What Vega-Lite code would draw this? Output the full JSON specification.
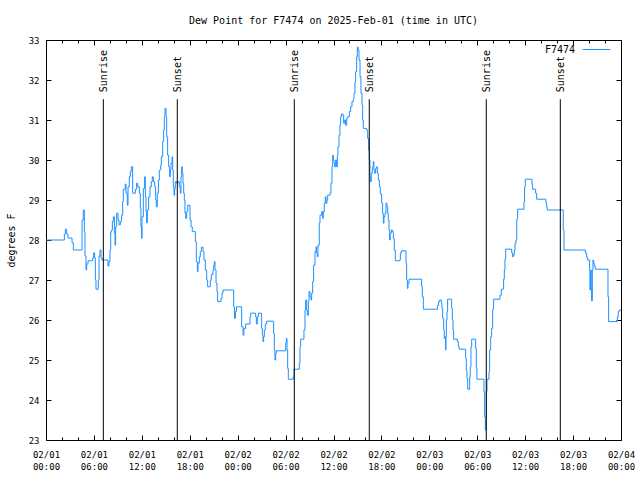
{
  "$schema": "https://vega.github.io/schema/vega-lite/v6.json",
  "width": 575,
  "height": 400,
  "autosize": {"type": "none"},
  "padding": {"left": 46, "top": 40, "right": 19, "bottom": 40},
  "background": "white",
  "title": {"text": "Dew Point for F7474 on 2025-Feb-01 (time in UTC)", "font": "DejaVu Sans Mono", "fontSize": 10, "fontWeight": "normal", "color": "black", "anchor": "middle", "offset": 9},
  "config": {"font": "DejaVu Sans Mono", "view": {"stroke": null}},
  "datasets": {
    "dew": [
      {"hours": 0, "dewpoint": 28.0}, {"hours": 2.30, "dewpoint": 28.15}, {"hours": 2.42, "dewpoint": 28.27}, {"hours": 2.59, "dewpoint": 28.15}, {"hours": 2.75, "dewpoint": 28.05}, {"hours": 3.26, "dewpoint": 27.93}, {"hours": 3.42, "dewpoint": 27.75},
      {"hours": 4.51, "dewpoint": 28.5}, {"hours": 4.67, "dewpoint": 28.75}, {"hours": 4.80, "dewpoint": 28.2}, {"hours": 4.88, "dewpoint": 27.6}, {"hours": 5.01, "dewpoint": 27.25}, {"hours": 5.09, "dewpoint": 27.4}, {"hours": 5.26, "dewpoint": 27.48},
      {"hours": 5.84, "dewpoint": 27.55}, {"hours": 5.97, "dewpoint": 27.68}, {"hours": 6.09, "dewpoint": 27.55}, {"hours": 6.18, "dewpoint": 27.0}, {"hours": 6.26, "dewpoint": 26.77}, {"hours": 6.55, "dewpoint": 27.0}, {"hours": 6.64, "dewpoint": 27.6},
      {"hours": 6.76, "dewpoint": 27.75}, {"hours": 6.89, "dewpoint": 27.55}, {"hours": 7.01, "dewpoint": 27.5}, {"hours": 7.76, "dewpoint": 27.35}, {"hours": 7.89, "dewpoint": 27.46}, {"hours": 8.01, "dewpoint": 27.75}, {"hours": 8.10, "dewpoint": 28.2},
      {"hours": 8.22, "dewpoint": 28.25}, {"hours": 8.31, "dewpoint": 28.46}, {"hours": 8.43, "dewpoint": 28.58}, {"hours": 8.56, "dewpoint": 28.17}, {"hours": 8.64, "dewpoint": 27.87}, {"hours": 8.72, "dewpoint": 28.33}, {"hours": 8.85, "dewpoint": 28.67},
      {"hours": 9.02, "dewpoint": 28.5}, {"hours": 9.14, "dewpoint": 28.38}, {"hours": 9.31, "dewpoint": 28.46}, {"hours": 9.47, "dewpoint": 28.62}, {"hours": 9.60, "dewpoint": 28.96}, {"hours": 9.68, "dewpoint": 29.27}, {"hours": 9.93, "dewpoint": 29.4},
      {"hours": 10.02, "dewpoint": 29.17}, {"hours": 10.18, "dewpoint": 28.87}, {"hours": 10.27, "dewpoint": 29.33}, {"hours": 10.43, "dewpoint": 29.58}, {"hours": 10.56, "dewpoint": 29.71}, {"hours": 10.68, "dewpoint": 29.83}, {"hours": 10.85, "dewpoint": 29.17},
      {"hours": 11.19, "dewpoint": 29.27}, {"hours": 11.35, "dewpoint": 29.42}, {"hours": 11.48, "dewpoint": 29.33}, {"hours": 11.69, "dewpoint": 29.17}, {"hours": 11.81, "dewpoint": 28.79}, {"hours": 11.89, "dewpoint": 28.33}, {"hours": 11.98, "dewpoint": 28.04},
      {"hours": 12.02, "dewpoint": 28.58}, {"hours": 12.19, "dewpoint": 29.29}, {"hours": 12.35, "dewpoint": 29.58}, {"hours": 12.44, "dewpoint": 29.08}, {"hours": 12.52, "dewpoint": 28.71}, {"hours": 12.60, "dewpoint": 28.43}, {"hours": 12.69, "dewpoint": 28.75},
      {"hours": 12.85, "dewpoint": 29.08}, {"hours": 13.02, "dewpoint": 29.33}, {"hours": 13.19, "dewpoint": 29.46}, {"hours": 13.31, "dewpoint": 29.58}, {"hours": 13.44, "dewpoint": 29.46}, {"hours": 13.61, "dewpoint": 29.33}, {"hours": 13.73, "dewpoint": 29.0},
      {"hours": 13.81, "dewpoint": 28.83}, {"hours": 13.94, "dewpoint": 29.17}, {"hours": 14.07, "dewpoint": 29.5}, {"hours": 14.19, "dewpoint": 29.75}, {"hours": 14.36, "dewpoint": 29.87}, {"hours": 14.44, "dewpoint": 30.08}, {"hours": 14.61, "dewpoint": 30.46},
      {"hours": 14.73, "dewpoint": 30.75}, {"hours": 14.82, "dewpoint": 31.08}, {"hours": 14.90, "dewpoint": 31.29}, {"hours": 15.03, "dewpoint": 31.08}, {"hours": 15.11, "dewpoint": 30.58}, {"hours": 15.23, "dewpoint": 30.12}, {"hours": 15.36, "dewpoint": 29.83},
      {"hours": 15.48, "dewpoint": 29.58}, {"hours": 15.57, "dewpoint": 29.75}, {"hours": 15.65, "dewpoint": 29.92}, {"hours": 15.78, "dewpoint": 30.08}, {"hours": 15.86, "dewpoint": 29.75}, {"hours": 15.94, "dewpoint": 29.33}, {"hours": 16.03, "dewpoint": 29.12},
      {"hours": 16.11, "dewpoint": 29.29}, {"hours": 16.19, "dewpoint": 29.46}, {"hours": 16.36, "dewpoint": 29.42}, {"hours": 16.53, "dewpoint": 29.46}, {"hours": 16.69, "dewpoint": 29.33}, {"hours": 16.82, "dewpoint": 29.17}, {"hours": 16.90, "dewpoint": 29.58},
      {"hours": 16.99, "dewpoint": 29.83}, {"hours": 17.07, "dewpoint": 29.67}, {"hours": 17.15, "dewpoint": 29.42}, {"hours": 17.24, "dewpoint": 29.17}, {"hours": 17.32, "dewpoint": 29.0}, {"hours": 17.40, "dewpoint": 28.67}, {"hours": 17.49, "dewpoint": 28.54},
      {"hours": 17.61, "dewpoint": 28.71}, {"hours": 17.74, "dewpoint": 28.87}, {"hours": 18.03, "dewpoint": 28.5}, {"hours": 18.16, "dewpoint": 28.33}, {"hours": 18.32, "dewpoint": 28.21}, {"hours": 18.70, "dewpoint": 27.96}, {"hours": 18.82, "dewpoint": 27.46},
      {"hours": 18.95, "dewpoint": 27.21}, {"hours": 19.03, "dewpoint": 27.42}, {"hours": 19.20, "dewpoint": 27.58}, {"hours": 19.32, "dewpoint": 27.71}, {"hours": 19.45, "dewpoint": 27.82}, {"hours": 19.66, "dewpoint": 27.71}, {"hours": 19.78, "dewpoint": 27.5},
      {"hours": 19.95, "dewpoint": 27.25}, {"hours": 20.12, "dewpoint": 27.0}, {"hours": 20.24, "dewpoint": 26.83}, {"hours": 20.58, "dewpoint": 27.0}, {"hours": 20.70, "dewpoint": 27.14}, {"hours": 20.91, "dewpoint": 27.25}, {"hours": 20.99, "dewpoint": 27.37},
      {"hours": 21.08, "dewpoint": 27.46}, {"hours": 21.16, "dewpoint": 27.25}, {"hours": 21.29, "dewpoint": 26.92}, {"hours": 21.41, "dewpoint": 26.71}, {"hours": 21.49, "dewpoint": 26.46}, {"hours": 21.91, "dewpoint": 26.54}, {"hours": 22.04, "dewpoint": 26.67},
      {"hours": 22.16, "dewpoint": 26.75}, {"hours": 23.50, "dewpoint": 26.33}, {"hours": 23.60, "dewpoint": 26.04}, {"hours": 23.72, "dewpoint": 26.21}, {"hours": 23.85, "dewpoint": 26.33}, {"hours": 24.50, "dewpoint": 25.83}, {"hours": 24.67, "dewpoint": 25.62},
      {"hours": 24.79, "dewpoint": 25.79}, {"hours": 25.0, "dewpoint": 25.9}, {"hours": 25.54, "dewpoint": 26.08}, {"hours": 25.63, "dewpoint": 26.17}, {"hours": 26.25, "dewpoint": 26.08}, {"hours": 26.34, "dewpoint": 25.9}, {"hours": 26.46, "dewpoint": 26.08},
      {"hours": 26.59, "dewpoint": 26.17}, {"hours": 27.0, "dewpoint": 25.79}, {"hours": 27.09, "dewpoint": 25.62}, {"hours": 27.17, "dewpoint": 25.46}, {"hours": 27.25, "dewpoint": 25.58}, {"hours": 27.34, "dewpoint": 25.75}, {"hours": 27.46, "dewpoint": 25.9},
      {"hours": 27.63, "dewpoint": 25.97}, {"hours": 28.50, "dewpoint": 25.67}, {"hours": 28.59, "dewpoint": 25.25}, {"hours": 28.67, "dewpoint": 25.0}, {"hours": 28.76, "dewpoint": 25.17}, {"hours": 28.84, "dewpoint": 25.23}, {"hours": 30.01, "dewpoint": 25.42},
      {"hours": 30.09, "dewpoint": 25.54}, {"hours": 30.18, "dewpoint": 25.25}, {"hours": 30.26, "dewpoint": 24.79}, {"hours": 30.34, "dewpoint": 24.52}, {"hours": 30.97, "dewpoint": 24.58}, {"hours": 31.05, "dewpoint": 24.77}, {"hours": 31.72, "dewpoint": 24.92},
      {"hours": 31.80, "dewpoint": 25.33}, {"hours": 31.89, "dewpoint": 25.52}, {"hours": 32.22, "dewpoint": 25.52}, {"hours": 32.30, "dewpoint": 25.75}, {"hours": 32.43, "dewpoint": 26.25}, {"hours": 32.51, "dewpoint": 26.5}, {"hours": 32.64, "dewpoint": 26.25},
      {"hours": 32.72, "dewpoint": 26.12}, {"hours": 32.85, "dewpoint": 26.46}, {"hours": 32.93, "dewpoint": 26.71}, {"hours": 33.06, "dewpoint": 26.58}, {"hours": 33.18, "dewpoint": 26.5}, {"hours": 33.26, "dewpoint": 26.67}, {"hours": 33.39, "dewpoint": 26.96},
      {"hours": 33.51, "dewpoint": 27.37}, {"hours": 33.68, "dewpoint": 27.71}, {"hours": 33.81, "dewpoint": 27.83}, {"hours": 33.89, "dewpoint": 27.67}, {"hours": 33.97, "dewpoint": 27.58}, {"hours": 34.06, "dewpoint": 27.87}, {"hours": 34.22, "dewpoint": 28.42},
      {"hours": 34.31, "dewpoint": 28.62}, {"hours": 34.52, "dewpoint": 28.71}, {"hours": 34.64, "dewpoint": 28.54}, {"hours": 34.72, "dewpoint": 28.71}, {"hours": 34.85, "dewpoint": 28.92}, {"hours": 34.97, "dewpoint": 29.08}, {"hours": 35.06, "dewpoint": 28.92},
      {"hours": 35.18, "dewpoint": 29.0}, {"hours": 35.27, "dewpoint": 29.12}, {"hours": 35.56, "dewpoint": 29.17}, {"hours": 35.68, "dewpoint": 29.42}, {"hours": 35.81, "dewpoint": 29.83}, {"hours": 35.89, "dewpoint": 30.12}, {"hours": 35.98, "dewpoint": 30.0},
      {"hours": 36.06, "dewpoint": 29.92}, {"hours": 36.14, "dewpoint": 29.83}, {"hours": 36.27, "dewpoint": 30.0}, {"hours": 36.39, "dewpoint": 29.83}, {"hours": 36.48, "dewpoint": 30.12}, {"hours": 36.56, "dewpoint": 30.33}, {"hours": 36.69, "dewpoint": 30.62},
      {"hours": 36.81, "dewpoint": 30.87}, {"hours": 36.89, "dewpoint": 31.08}, {"hours": 36.98, "dewpoint": 31.15}, {"hours": 37.15, "dewpoint": 31.12}, {"hours": 37.27, "dewpoint": 30.92}, {"hours": 37.40, "dewpoint": 31.0}, {"hours": 37.52, "dewpoint": 30.87},
      {"hours": 37.65, "dewpoint": 31.04}, {"hours": 37.77, "dewpoint": 31.08}, {"hours": 37.98, "dewpoint": 31.21}, {"hours": 38.15, "dewpoint": 31.33}, {"hours": 38.31, "dewpoint": 31.46}, {"hours": 38.48, "dewpoint": 31.52}, {"hours": 38.56, "dewpoint": 31.67},
      {"hours": 38.69, "dewpoint": 31.96}, {"hours": 38.77, "dewpoint": 32.21}, {"hours": 38.90, "dewpoint": 32.58}, {"hours": 38.98, "dewpoint": 32.82}, {"hours": 39.10, "dewpoint": 32.75}, {"hours": 39.19, "dewpoint": 32.5}, {"hours": 39.32, "dewpoint": 32.08},
      {"hours": 39.44, "dewpoint": 31.67}, {"hours": 39.57, "dewpoint": 31.37}, {"hours": 39.65, "dewpoint": 31.0}, {"hours": 39.73, "dewpoint": 30.79}, {"hours": 40.15, "dewpoint": 30.75}, {"hours": 40.28, "dewpoint": 30.54}, {"hours": 40.40, "dewpoint": 30.25},
      {"hours": 40.48, "dewpoint": 30.0}, {"hours": 40.57, "dewpoint": 29.58}, {"hours": 40.65, "dewpoint": 29.46}, {"hours": 40.73, "dewpoint": 29.67}, {"hours": 40.86, "dewpoint": 29.83}, {"hours": 40.98, "dewpoint": 29.96}, {"hours": 41.06, "dewpoint": 29.75},
      {"hours": 41.15, "dewpoint": 29.67}, {"hours": 41.28, "dewpoint": 29.79}, {"hours": 41.40, "dewpoint": 29.83}, {"hours": 41.49, "dewpoint": 29.67}, {"hours": 41.61, "dewpoint": 29.5}, {"hours": 41.74, "dewpoint": 29.33}, {"hours": 41.86, "dewpoint": 29.15},
      {"hours": 42.03, "dewpoint": 28.92}, {"hours": 42.15, "dewpoint": 28.67}, {"hours": 42.24, "dewpoint": 28.42}, {"hours": 42.32, "dewpoint": 28.58}, {"hours": 42.45, "dewpoint": 28.67}, {"hours": 42.57, "dewpoint": 28.92}, {"hours": 42.70, "dewpoint": 28.83},
      {"hours": 42.78, "dewpoint": 28.67}, {"hours": 42.86, "dewpoint": 28.5}, {"hours": 42.95, "dewpoint": 28.25}, {"hours": 43.03, "dewpoint": 28.0}, {"hours": 43.11, "dewpoint": 28.17}, {"hours": 43.24, "dewpoint": 28.25}, {"hours": 43.36, "dewpoint": 28.21},
      {"hours": 43.49, "dewpoint": 28.04}, {"hours": 43.61, "dewpoint": 27.75}, {"hours": 43.74, "dewpoint": 27.48}, {"hours": 44.24, "dewpoint": 27.5}, {"hours": 44.37, "dewpoint": 27.67}, {"hours": 44.49, "dewpoint": 27.73}, {"hours": 45.0, "dewpoint": 27.73},
      {"hours": 45.08, "dewpoint": 27.42}, {"hours": 45.16, "dewpoint": 27.0}, {"hours": 45.25, "dewpoint": 26.79}, {"hours": 45.33, "dewpoint": 26.92}, {"hours": 45.46, "dewpoint": 27.02}, {"hours": 47.04, "dewpoint": 26.83}, {"hours": 47.12, "dewpoint": 26.58},
      {"hours": 47.25, "dewpoint": 26.27}, {"hours": 49.04, "dewpoint": 26.37}, {"hours": 49.17, "dewpoint": 26.46}, {"hours": 49.29, "dewpoint": 26.5}, {"hours": 49.50, "dewpoint": 26.42}, {"hours": 49.58, "dewpoint": 26.29}, {"hours": 49.67, "dewpoint": 26.04},
      {"hours": 49.79, "dewpoint": 25.75}, {"hours": 49.87, "dewpoint": 25.54}, {"hours": 49.96, "dewpoint": 25.58}, {"hours": 50.04, "dewpoint": 25.25}, {"hours": 50.08, "dewpoint": 25.58}, {"hours": 50.13, "dewpoint": 26.0}, {"hours": 50.21, "dewpoint": 26.21},
      {"hours": 50.29, "dewpoint": 26.52}, {"hours": 50.79, "dewpoint": 26.29}, {"hours": 50.88, "dewpoint": 26.0}, {"hours": 50.96, "dewpoint": 25.75}, {"hours": 51.04, "dewpoint": 25.52}, {"hours": 51.50, "dewpoint": 25.46}, {"hours": 51.63, "dewpoint": 25.33},
      {"hours": 51.75, "dewpoint": 25.27}, {"hours": 52.55, "dewpoint": 25.04}, {"hours": 52.63, "dewpoint": 24.75}, {"hours": 52.71, "dewpoint": 24.54}, {"hours": 52.80, "dewpoint": 24.27}, {"hours": 53.05, "dewpoint": 24.58}, {"hours": 53.13, "dewpoint": 24.83},
      {"hours": 53.21, "dewpoint": 25.33}, {"hours": 53.30, "dewpoint": 25.52}, {"hours": 53.80, "dewpoint": 25.29}, {"hours": 53.88, "dewpoint": 24.79}, {"hours": 53.96, "dewpoint": 24.52}, {"hours": 54.84, "dewpoint": 24.21}, {"hours": 54.92, "dewpoint": 23.58},
      {"hours": 55.01, "dewpoint": 23.25}, {"hours": 55.09, "dewpoint": 23.58}, {"hours": 55.13, "dewpoint": 24.21}, {"hours": 55.22, "dewpoint": 24.52}, {"hours": 55.47, "dewpoint": 24.71}, {"hours": 55.55, "dewpoint": 25.25}, {"hours": 55.68, "dewpoint": 25.58},
      {"hours": 55.80, "dewpoint": 25.79}, {"hours": 55.93, "dewpoint": 26.27}, {"hours": 56.05, "dewpoint": 26.52}, {"hours": 56.84, "dewpoint": 26.62}, {"hours": 57.01, "dewpoint": 26.77}, {"hours": 57.30, "dewpoint": 27.02}, {"hours": 57.39, "dewpoint": 27.25},
      {"hours": 57.47, "dewpoint": 27.52}, {"hours": 57.56, "dewpoint": 27.77}, {"hours": 58.31, "dewpoint": 27.68}, {"hours": 58.43, "dewpoint": 27.58}, {"hours": 58.52, "dewpoint": 27.62}, {"hours": 58.64, "dewpoint": 27.75}, {"hours": 58.73, "dewpoint": 27.92},
      {"hours": 58.85, "dewpoint": 28.0}, {"hours": 58.95, "dewpoint": 28.52}, {"hours": 59.06, "dewpoint": 28.77}, {"hours": 59.85, "dewpoint": 28.96}, {"hours": 59.93, "dewpoint": 29.33}, {"hours": 60.02, "dewpoint": 29.52}, {"hours": 60.85, "dewpoint": 29.4},
      {"hours": 60.93, "dewpoint": 29.27}, {"hours": 61.31, "dewpoint": 29.17}, {"hours": 61.44, "dewpoint": 29.02}, {"hours": 62.60, "dewpoint": 28.93}, {"hours": 62.69, "dewpoint": 28.82}, {"hours": 62.77, "dewpoint": 28.75}, {"hours": 64.77, "dewpoint": 28.25},
      {"hours": 64.86, "dewpoint": 27.75}, {"hours": 67.56, "dewpoint": 27.67}, {"hours": 67.70, "dewpoint": 27.57}, {"hours": 67.82, "dewpoint": 27.5}, {"hours": 68.07, "dewpoint": 27.25}, {"hours": 68.11, "dewpoint": 26.75}, {"hours": 68.20, "dewpoint": 27.25},
      {"hours": 68.28, "dewpoint": 26.75}, {"hours": 68.32, "dewpoint": 26.48}, {"hours": 68.41, "dewpoint": 27.25}, {"hours": 68.49, "dewpoint": 27.5}, {"hours": 68.57, "dewpoint": 27.42}, {"hours": 68.66, "dewpoint": 27.35}, {"hours": 68.78, "dewpoint": 27.27},
      {"hours": 70.37, "dewpoint": 26.58}, {"hours": 70.45, "dewpoint": 25.96}, {"hours": 71.54, "dewpoint": 26.08}, {"hours": 71.66, "dewpoint": 26.21}, {"hours": 71.79, "dewpoint": 26.25}, {"hours": 72.0, "dewpoint": 26.25}
    ],
    "sun": [
      {"hours": 7.18, "event": "Sunrise"}, {"hours": 16.44, "event": "Sunset"},
      {"hours": 31.09, "event": "Sunrise"}, {"hours": 40.48, "event": "Sunset"},
      {"hours": 55.13, "event": "Sunrise"}, {"hours": 64.40, "event": "Sunset"}
    ]
  },
  "resolve": {"axis": {"x": "independent", "y": "independent"}},
  "layer": [
    {
      "data": {"name": "dew"},
      "mark": {"type": "line", "interpolate": "step-after", "strokeWidth": 1, "clip": true},
      "encoding": {
        "x": {"field": "hours", "type": "quantitative",
          "scale": {"domain": [0, 72], "nice": false, "zero": false},
          "axis": {"orient": "bottom", "title": null, "grid": false,
            "values": [0,2,4,6,8,10,12,14,16,18,20,22,24,26,28,30,32,34,36,38,40,42,44,46,48,50,52,54,56,58,60,62,64,66,68,70,72],
            "tickSize": {"condition": {"test": "datum.value % 6 === 0", "value": -5}, "value": -3},
            "labelExpr": "datum.value % 6 === 0 ? [utcFormat(utc(2025,1,1) + datum.value*3600000, '%m/%d'), utcFormat(utc(2025,1,1) + datum.value*3600000, '%H:%M')] : ''",
            "labelFont": "DejaVu Sans Mono", "labelFontSize": 9, "labelColor": "black", "labelLineHeight": 12,
            "labelPadding": 15, "labelFlush": false, "labelOverlap": false, "labelBound": false,
            "domainColor": "black", "tickColor": "black", "domainWidth": 1, "tickWidth": 1}},
        "y": {"field": "dewpoint", "type": "quantitative",
          "scale": {"domain": [23, 33], "nice": false, "zero": false},
          "axis": {"orient": "left", "title": "degrees F", "grid": false,
            "values": [23,24,25,26,27,28,29,30,31,32,33], "tickSize": -5,
            "labelFont": "DejaVu Sans Mono", "labelFontSize": 9, "labelColor": "black", "labelPadding": 12,
            "titleFont": "DejaVu Sans Mono", "titleFontSize": 10, "titleFontWeight": "normal", "titleColor": "black", "titlePadding": 12,
            "domainColor": "black", "tickColor": "black"}},
        "color": {"datum": "F7474", "type": "nominal",
          "scale": {"range": ["#1e90ff"]},
          "legend": {"title": null, "orient": "none", "legendX": 536, "legendY": -5, "padding": 0,
            "symbolType": "stroke", "symbolSize": 784, "symbolStrokeWidth": 1,
            "labelFont": "DejaVu Sans Mono", "labelFontSize": 10, "labelColor": "black", "labelAlign": "right", "labelOffset": -36}}
      }
    },
    {
      "data": {"name": "sun"},
      "mark": {"type": "rule", "color": "black", "strokeWidth": 1},
      "encoding": {
        "x": {"field": "hours", "type": "quantitative",
          "axis": {"orient": "top", "title": null, "grid": false, "labels": false,
            "values": [0,2,4,6,8,10,12,14,16,18,20,22,24,26,28,30,32,34,36,38,40,42,44,46,48,50,52,54,56,58,60,62,64,66,68,70,72],
            "tickSize": {"condition": {"test": "datum.value % 6 === 0", "value": -5}, "value": -3},
            "domainColor": "black", "tickColor": "black"}},
        "y": {"datum": 23, "type": "quantitative",
          "axis": {"orient": "right", "title": null, "grid": false, "labels": false,
            "values": [23,24,25,26,27,28,29,30,31,32,33], "tickSize": -5,
            "domainColor": "black", "tickColor": "black"}},
        "y2": {"datum": 31.52}
      }
    },
    {
      "data": {"name": "sun"},
      "mark": {"type": "text", "angle": 270, "align": "left", "baseline": "middle", "dx": 7, "dy": 1, "font": "DejaVu Sans Mono", "fontSize": 10, "color": "black"},
      "encoding": {
        "x": {"field": "hours", "type": "quantitative", "axis": null},
        "y": {"datum": 31.52, "type": "quantitative", "axis": null},
        "text": {"field": "event"}
      }
    }
  ]
}
